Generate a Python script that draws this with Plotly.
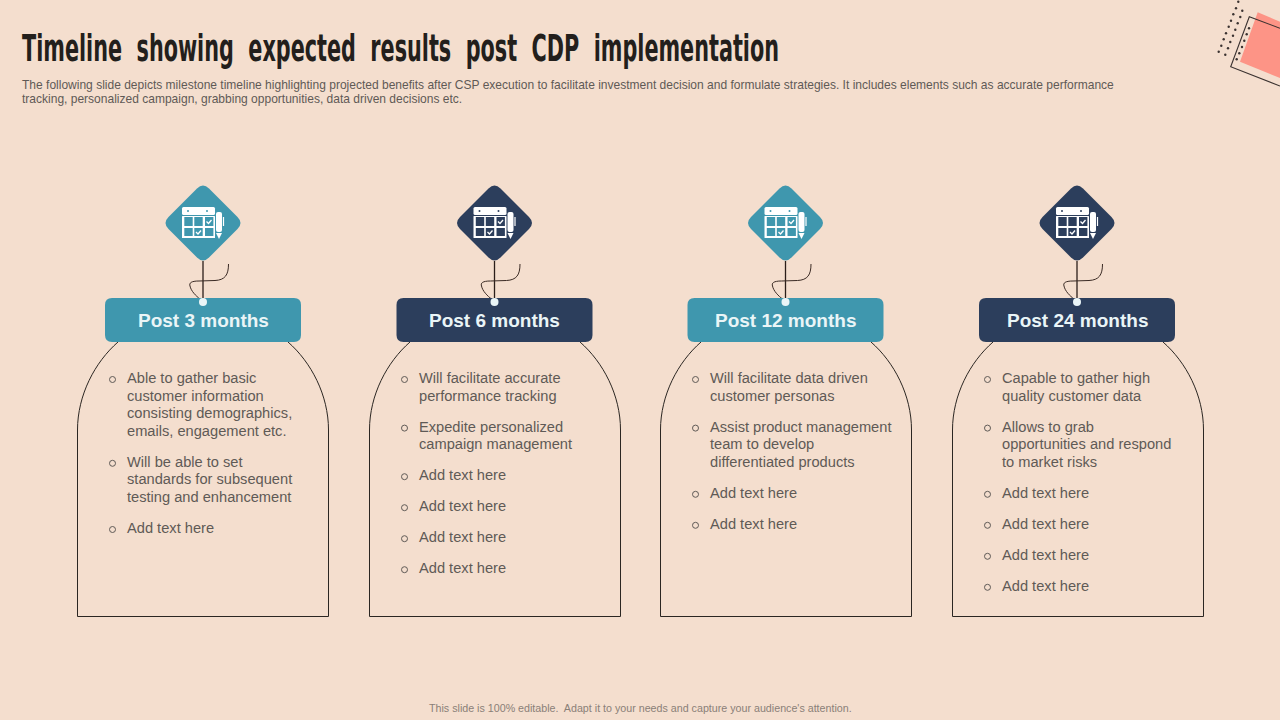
import plotly.graph_objects as go

BG = "#F4DECE"
TEAL = "#3F97AE"
NAVY = "#2C3E5C"
INK = "#231F1C"
BODY = "#5F5A56"

title_text = "Timeline\u00a0\u00a0showing\u00a0\u00a0expected\u00a0\u00a0results\u00a0\u00a0post\u00a0\u00a0CDP\u00a0\u00a0implementation"
intro_lines = [
    "The following slide depicts milestone timeline highlighting projected benefits after CSP execution to facilitate investment decision and formulate strategies. It includes elements such as accurate performance",
    "tracking, personalized campaign, grabbing opportunities, data driven decisions etc.",
]
footer_text = "This slide is 100% editable.  Adapt it to your needs and capture your audience's attention."

headers = ["Post 3 months", "Post 6 months", "Post 12 months", "Post 24 months"]
header_colors = [TEAL, NAVY, TEAL, NAVY]
header_centers = [203, 494.5, 785.5, 1077]
card_centers = [203, 495, 786, 1078]
bullets = [
    [["Able to gather basic", "customer information", "consisting demographics,", "emails, engagement etc."],
     ["Will be able to set", "standards for subsequent", "testing and enhancement"],
     ["Add text here"]],
    [["Will facilitate accurate", "performance tracking"],
     ["Expedite personalized", "campaign management"],
     ["Add text here"], ["Add text here"], ["Add text here"], ["Add text here"]],
    [["Will facilitate data driven", "customer personas"],
     ["Assist product management", "team to develop", "differentiated products"],
     ["Add text here"], ["Add text here"]],
    [["Capable to gather high", "quality customer data"],
     ["Allows to grab", "opportunities and respond", "to market risks"],
     ["Add text here"], ["Add text here"], ["Add text here"], ["Add text here"]],
]
dots_x = [1238.3, 1236, 1233.3, 1231, 1228.7, 1226, 1223.7, 1221.3, 1218.7,
          1242.3, 1240.3, 1237.7, 1235.3, 1233, 1230.3, 1228, 1225.3,
          1249, 1246.7, 1244.3, 1242, 1239.3, 1236.7]
dots_y = [1.7, 8.3, 14.3, 20.7, 26.7, 33.3, 39.3, 45.7, 51.7,
          10.7, 17, 23.3, 29.7, 35.7, 42, 48.3, 54.7,
          28.3, 34.3, 40.7, 47, 53.3, 59.3]

shapes, annotations = [], []


def label(x, y, text, size, color, anchor="left", bold=False, family="Liberation Sans"):
    annotations.append(dict(
        x=x, y=y, xref="x", yref="y", text=text, showarrow=False, xanchor=anchor, yanchor="middle",
        borderpad=0, borderwidth=0,
        font=dict(size=size, color=color, family=family, weight=700 if bold else 400),
    ))


def path(d, fill=None, line=None, width=1.0):
    shapes.append(dict(
        type="path", path=d, xref="x", yref="y",
        fillcolor=fill if fill else "rgba(0,0,0,0)",
        line=dict(color=line if line else "rgba(0,0,0,0)", width=width if line else 0),
    ))


def rounded(x0, y0, x1, y1, r):
    return (f"M {x0+r} {y0} L {x1-r} {y0} Q {x1} {y0} {x1} {y0+r} L {x1} {y1-r} Q {x1} {y1} {x1-r} {y1} "
            f"L {x0+r} {y1} Q {x0} {y1} {x0} {y1-r} L {x0} {y0+r} Q {x0} {y0} {x0+r} {y0} Z")


def icon(cx, color):
    cy = 223
    h, r = 40.5, 6
    path(f"M {cx-r} {cy-h+r} Q {cx} {cy-h} {cx+r} {cy-h+r} L {cx+h-r} {cy-r} Q {cx+h} {cy} {cx+h-r} {cy+r} "
         f"L {cx+r} {cy+h-r} Q {cx} {cy+h} {cx-r} {cy+h-r} L {cx-h+r} {cy+r} Q {cx-h} {cy} {cx-h+r} {cy-r} Z",
         fill=color)
    path(rounded(cx-21, 207, cx+12, 215, 1.5), fill="#FFFFFF")
    path(rounded(cx-21, 216, cx+12, 238, 0.5), fill="#FFFFFF")
    for px in (cx-15, cx+4):
        shapes.append(dict(type="circle", xref="x", yref="y", x0=px-1, x1=px+1, y0=210, y1=212,
                           fillcolor=color, line=dict(width=0)))
    for col in (-18.7, -8.7, 2):
        for y0, y1 in ((217, 226), (228, 236)):
            path(f"M {cx+col} {y0} L {cx+col+8.4} {y0} L {cx+col+8.4} {y1} L {cx+col} {y1} Z", fill=color)
    for mx, my in ((cx+6, 221.5), (cx-4.5, 232)):
        path(f"M {mx-2.5} {my} L {mx-0.5} {my+2} L {mx+2.5} {my-1.5}", line="#FFFFFF", width=1.3)
    path(rounded(cx+13, 212, cx+19, 232, 2), fill="#FFFFFF")
    path(f"M {cx+13} 233 L {cx+19} 233 L {cx+16} 239 Z", fill="#FFFFFF")
    path(f"M {cx+20.5} 217 L {cx+20.5} 226", line="#FFFFFF", width=1.2)


for i, cx in enumerate(header_centers):
    color = header_colors[i]
    bx = card_centers[i]
    L, R = bx - 125.5, bx + 125.5
    path(f"M {bx-85} 342 C {bx-108} 362 {L} 395 {L} 430 L {L} 616.5 L {R} 616.5 L {R} 430 "
         f"C {R} 395 {bx+108} 362 {bx+85} 342", line="#2B2622", width=1)
    icon(cx, color)
    path(f"M {cx} 261 L {cx} 302", line="#2B1E1A", width=1.3)
    path(f"M {cx+25.5} 264 C {cx+25.5} 275 {cx+22} 280 {cx+12} 280.5 L {cx-4} 281 "
         f"C {cx-12} 281 {cx-14} 283 {cx-13} 286 C {cx-12} 291 {cx-7} 296 {cx-3} 299",
         line="#3A2A24", width=1)
    path(rounded(cx-98, 298, cx+98, 342, 7), fill=color)
    shapes.append(dict(type="circle", xref="x", yref="y", x0=cx-4, x1=cx+4, y0=298, y1=306,
                       fillcolor="#EAF5F7", line=dict(width=0)))
    label(cx, 320.5, headers[i], 19, "#EAF5F7", anchor="center", bold=True)
    y = 378.0
    for para in bullets[i]:
        shapes.append(dict(type="circle", xref="x", yref="y", x0=bx-93.5, x1=bx-87.5, y0=y-1.5, y1=y+4.5,
                           fillcolor="rgba(0,0,0,0)", line=dict(color=BODY, width=1)))
        for ln in para:
            label(bx-76, y, ln, 14.65, BODY)
            y += 17.6
        y += 13.4

path("M 1257.7 12.3 L 1240 61.7 L 1280 78 L 1280 21.7 Z", fill="#FD9486")
path("M 1280 28.3 L 1249.3 16.7 L 1230.7 66.7 L 1280 86", line="#3A3230", width=1.1)

label(22, 48, title_text, 38, INK, bold=True, family="DejaVu Sans Condensed")
label(22, 85, intro_lines[0], 12.03, BODY)
label(22, 99, intro_lines[1], 12.03, BODY)
label(640, 708, footer_text, 10.7, "#8A8078", anchor="center")

fig = go.Figure(go.Scatter(
    x=dots_x, y=dots_y, mode="markers",
    marker=dict(size=2.4, color="#3A3230"), hoverinfo="skip", showlegend=False,
))
fig.update_layout(
    width=1280, height=720, margin=dict(l=0, r=0, t=0, b=0),
    paper_bgcolor=BG, plot_bgcolor=BG, showlegend=False,
    xaxis=dict(range=[0, 1280], visible=False, fixedrange=True),
    yaxis=dict(range=[720, 0], visible=False, fixedrange=True),
    shapes=shapes, annotations=annotations,
)
post = """
document.body.style.margin = '0';
document.documentElement.style.background = '#F4DECE';
document.querySelectorAll('.annotation-text').forEach(function (t) {
  if (t.textContent.indexOf('Timeline') === 0) {
    t.setAttribute('textLength', '757');
    t.setAttribute('lengthAdjust', 'spacingAndGlyphs');
    var r = t.getBoundingClientRect();
    var x = parseFloat(t.getAttribute('x') || '0');
    t.setAttribute('x', String(x + 22 - r.left));
    var a = t.closest('.annotation');
    if (a) {
      a.querySelectorAll('rect').forEach(function (b) { b.setAttribute('width', '757'); });
    }
  }
});
"""
fig.write_html("out.html", post_script=post, config={"displayModeBar": False})
